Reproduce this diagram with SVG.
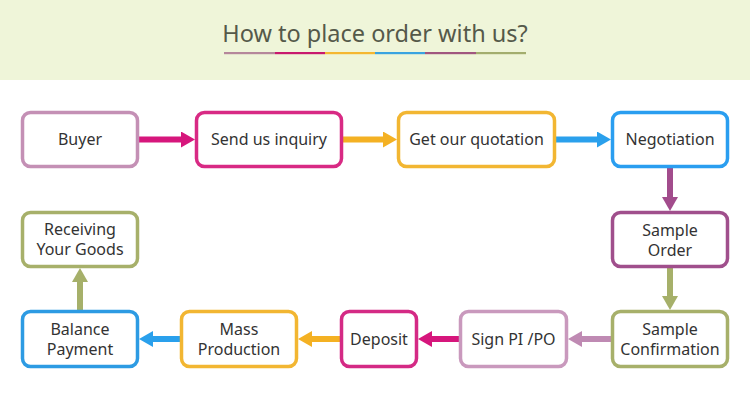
<svg xmlns="http://www.w3.org/2000/svg" width="750" height="400" viewBox="0 0 750 400">
<style>
.box{fill:#fff;stroke-width:3.5}
.lbl{font-family:"Noto Sans","Liberation Sans",sans-serif;font-size:16px;fill:#333;text-anchor:middle}
.arr{fill:none;stroke-width:6}
.title{font-family:"Noto Sans","Liberation Sans",sans-serif;font-size:23.5px;fill:#55594a;text-anchor:middle}
</style>
<defs>
<marker id="mMag" markerUnits="userSpaceOnUse" markerWidth="14" markerHeight="16" refX="0" refY="8" orient="auto"><path d="M0,0 L14,8 L0,16 z" fill="#d6167c"/></marker>
<marker id="mYel" markerUnits="userSpaceOnUse" markerWidth="14" markerHeight="16" refX="0" refY="8" orient="auto"><path d="M0,0 L14,8 L0,16 z" fill="#f4b123"/></marker>
<marker id="mBlu" markerUnits="userSpaceOnUse" markerWidth="14" markerHeight="16" refX="0" refY="8" orient="auto"><path d="M0,0 L14,8 L0,16 z" fill="#2aa0ec"/></marker>
<marker id="mPur" markerUnits="userSpaceOnUse" markerWidth="14" markerHeight="16" refX="0" refY="8" orient="auto"><path d="M0,0 L14,8 L0,16 z" fill="#a24c8c"/></marker>
<marker id="mOli" markerUnits="userSpaceOnUse" markerWidth="14" markerHeight="16" refX="0" refY="8" orient="auto"><path d="M0,0 L14,8 L0,16 z" fill="#a6b06a"/></marker>
<marker id="mMau" markerUnits="userSpaceOnUse" markerWidth="14" markerHeight="16" refX="0" refY="8" orient="auto"><path d="M0,0 L14,8 L0,16 z" fill="#bf8ab3"/></marker>
</defs>
<rect x="0" y="0" width="750" height="80" fill="#eff5d9"/>
<rect x="0" y="80" width="750" height="320" fill="#ffffff"/>
<text class="title" x="375" y="42">How to place order with us?</text>
<g id="underline">
<rect x="224" y="52" width="51" height="2.2" fill="#b5879b"/>
<rect x="275" y="52" width="50" height="2.2" fill="#c8196e"/>
<rect x="325" y="52" width="50" height="2.2" fill="#f5b731"/>
<rect x="375" y="52" width="50" height="2.2" fill="#3aa3e0"/>
<rect x="425" y="52" width="51" height="2.2" fill="#a0567f"/>
<rect x="476" y="52" width="50" height="2.2" fill="#a3ad6e"/>
</g>
<g id="connectors">
<path class="arr" d="M139,139.5 H181" stroke="#d6167c" marker-end="url(#mMag)"/>
<path class="arr" d="M343,139.5 H383" stroke="#f4b123" marker-end="url(#mYel)"/>
<path class="arr" d="M556,139.5 H597" stroke="#2aa0ec" marker-end="url(#mBlu)"/>
<path class="arr" d="M670,168 V197" stroke="#a24c8c" marker-end="url(#mPur)"/>
<path class="arr" d="M670,268 V296" stroke="#a6b06a" marker-end="url(#mOli)"/>
<path class="arr" d="M611,339 H582" stroke="#bf8ab3" marker-end="url(#mMau)"/>
<path class="arr" d="M459,339 H432" stroke="#d6167c" marker-end="url(#mMag)"/>
<path class="arr" d="M340,339 H312" stroke="#f4b123" marker-end="url(#mYel)"/>
<path class="arr" d="M180,339 H153" stroke="#2aa0ec" marker-end="url(#mBlu)"/>
<path class="arr" d="M80,310 V282" stroke="#a6b06a" marker-end="url(#mOli)"/>
</g>
<g id="buyer"><rect class="box" x="22.5" y="112.5" width="115" height="54" rx="8" stroke="#c490b5"/><text class="lbl" x="80" y="145">Buyer</text></g>
<g id="send-inquiry"><rect class="box" x="196.5" y="112.5" width="145" height="54" rx="8" stroke="#d82a84"/><text class="lbl" x="269" y="145">Send us inquiry</text></g>
<g id="get-quotation"><rect class="box" x="398.5" y="112.5" width="156" height="54" rx="8" stroke="#f2b632"/><text class="lbl" x="476.5" y="145">Get our quotation</text></g>
<g id="negotiation"><rect class="box" x="612.5" y="112.5" width="115" height="54" rx="8" stroke="#2a9ef0"/><text class="lbl" x="670" y="145">Negotiation</text></g>
<g id="sample-order"><rect class="box" x="612.5" y="212.5" width="115" height="54" rx="8" stroke="#a04f8c"/><text class="lbl" x="670" y="235.5">Sample</text><text class="lbl" x="670" y="256">Order</text></g>
<g id="sample-confirmation"><rect class="box" x="612.5" y="311.5" width="115" height="55" rx="8" stroke="#a7b06a"/><text class="lbl" x="670" y="334.5">Sample</text><text class="lbl" x="670" y="355">Confirmation</text></g>
<g id="sign-pi-po"><rect class="box" x="460.5" y="311.5" width="106" height="55" rx="8" stroke="#c999bd"/><text class="lbl" x="513.5" y="344.5">Sign PI /PO</text></g>
<g id="deposit"><rect class="box" x="341.5" y="311.5" width="75" height="55" rx="8" stroke="#d42a85"/><text class="lbl" x="379" y="344.5">Deposit</text></g>
<g id="mass-production"><rect class="box" x="181.5" y="311.5" width="115" height="55" rx="8" stroke="#f2b632"/><text class="lbl" x="239" y="334.5">Mass</text><text class="lbl" x="239" y="355">Production</text></g>
<g id="balance-payment"><rect class="box" x="22.5" y="311.5" width="115" height="55" rx="8" stroke="#2d9be3"/><text class="lbl" x="80" y="334.5">Balance</text><text class="lbl" x="80" y="355">Payment</text></g>
<g id="receiving-goods"><rect class="box" x="22.5" y="212.5" width="115" height="54" rx="8" stroke="#a7b06a"/><text class="lbl" x="80" y="234.5">Receiving</text><text class="lbl" x="80" y="255">Your Goods</text></g>
</svg>
